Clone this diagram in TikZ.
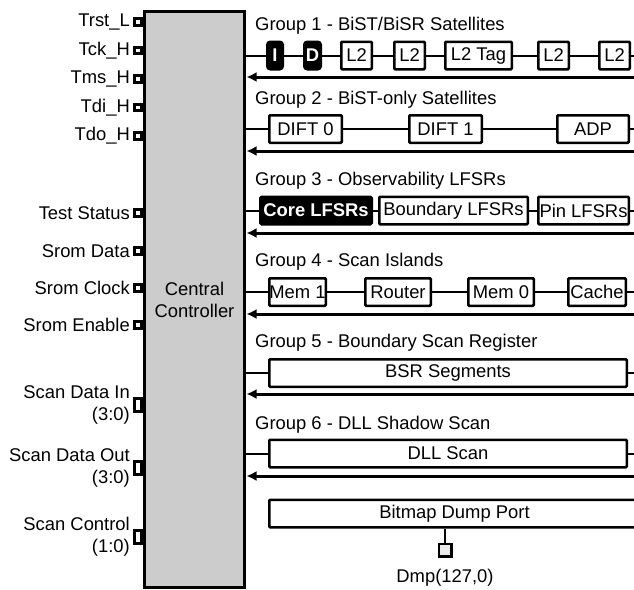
\documentclass[tikz,border=0pt]{standalone}
\usepackage{fontspec}
\setmainfont{Liberation Sans}
\usetikzlibrary{positioning,calc,arrows.meta}
\definecolor{CtrlGray}{RGB}{204,204,204}
\definecolor{PinGray}{RGB}{236,236,236}
\tikzset{
  lbl/.style={inner sep=0pt,font=\fontsize{18.4}{22}\selectfont},
  pinsq/.style={draw=black,fill=white,line width=2.6pt,minimum width=6.5pt,minimum height=6.5pt,inner sep=0pt},
  pintall/.style={pinsq,minimum height=12.5pt},
  cell/.style={draw=black,fill=white,line width=2.5pt,rounded corners=1pt,minimum height=27.5pt,
    inner sep=0pt,font=\fontsize{18.4}{22}\selectfont},
  darkcell/.style={cell,fill=black,text=white,rounded corners=3pt,font=\fontsize{18.4}{22}\selectfont\bfseries},
  wire/.style={draw=black,line width=2pt},
  ret/.style={draw=black,line width=3pt,-{Latex[length=10pt,width=10pt]}},
}

\begin{document}
\begin{tikzpicture}[x=1pt,y=-1pt]
  \useasboundingbox (0,0) rectangle (634,589);
  \clip (0,0) rectangle (634,589);
  % controller and its pins
  \node[draw=black,fill=CtrlGray,line width=3pt,minimum width=100.7pt,minimum height=576pt,
    align=center,font=\fontsize{18.4}{22}\selectfont] (ctrl) at (194.5,299.5) {Central\\Controller};
  \foreach \y/\txt [count=\i] in {22/Trst\_L,50.5/Tck\_H,79/Tms\_H,107.5/Tdi\_H,136/Tdo\_H,
      213/Test Status,251/Srom Data,288/Srom Clock,325/Srom Enable} {
    \node[pinsq] (pin\i) at (138,\y) {};
    \node[lbl,anchor=east] (pinl\i) at (130,\y) {\txt};
  }
  \foreach \y/\txt [count=\i] in {405/{Scan Data In\\(3:0)},468/{Scan Data Out\\(3:0)},537/{Scan Control\\(1:0)}} {
    \node[pintall] (bus\i) at (138,\y) {};
    \node[lbl,anchor=east,align=right] (busl\i) at (130,\y) {\txt};
  }
  % group labels
  \foreach \y/\txt [count=\i] in {26/{Group 1 - BiST/BiSR Satellites},100/{Group 2 - BiST-only Satellites},
      181/{Group 3 - Observability LFSRs},262/{Group 4 - Scan Islands},
      343/{Group 5 - Boundary Scan Register},425/{Group 6 - DLL Shadow Scan}} {
    \node[lbl,anchor=west] (grp\i) at (255,\y) {\txt};
  }
  % chain ends and return paths
  \foreach \y/\r [count=\i] in {55.5/77,129/151,210.5/233,292/314,373/394,453.5/476} {
    \coordinate (s\i) at (245,\y);
    \coordinate (e\i) at (634,\y);
    \coordinate (a\i) at (246.5,\r);
    \coordinate (b\i) at (634,\r);
    \draw[ret] (b\i) -- (a\i);
  }
  % group 1
  \node[darkcell,minimum width=15.5pt] (ic) at (275,55.5) {I};
  \node[darkcell,minimum width=16.5pt] (dc) at (312.5,55.5) {D};
  \node[cell,minimum width=30.5pt] (l2a) at (356.5,55.5) {L2};
  \node[cell,minimum width=30.5pt] (l2b) at (409.5,55.5) {L2};
  \node[cell,minimum width=66.5pt] (l2tag) at (478.5,55.5) {L2 Tag};
  \node[cell,minimum width=30.5pt] (l2c) at (553.5,55.5) {L2};
  \node[cell,minimum width=30.5pt] (l2d) at (614.5,55.5) {L2};
  \draw[wire] (s1) -- (ic) -- (dc) -- (l2a) -- (l2b) -- (l2tag) -- (l2c) -- (l2d) -- (e1);
  % group 2
  \node[cell,minimum width=72.5pt] (dift0) at (305.5,129) {DIFT 0};
  \node[cell,minimum width=72.5pt] (dift1) at (445.5,129) {DIFT 1};
  \node[cell,minimum width=71.5pt] (adp) at (593,129) {ADP};
  \draw[wire] (s2) -- (dift0) -- (dift1) -- (adp) -- (e2);
  % group 3
  \node[darkcell,minimum width=111.5pt,rounded corners=1.5pt] (corel) at (316,210.5) {Core LFSRs};
  \node[cell,minimum width=148.5pt] (bndl) at (453.5,210.5) {Boundary LFSRs};
  \node[cell,minimum width=90.5pt] (pinlf) at (583.5,210.5) {Pin LFSRs};
  \draw[wire] (s3) -- (corel) -- (bndl) -- (pinlf) -- (e3);
  % group 4
  \node[cell,minimum width=56.5pt] (mem1) at (297.5,292) {Mem 1};
  \node[cell,minimum width=65.5pt] (router) at (398,292) {Router};
  \node[cell,minimum width=65.5pt] (mem0) at (501,292) {Mem 0};
  \node[cell,minimum width=57.5pt] (cache) at (597,292) {Cache};
  \draw[wire] (s4) -- (mem1) -- (router) -- (mem0) -- (cache) -- (e4);
  % groups 5 and 6
  \node[cell,minimum width=357.5pt] (bsr) at (448,373) {BSR Segments};
  \draw[wire] (s5) -- (bsr) -- (e5);
  \node[cell,minimum width=357.5pt] (dll) at (448,453.5) {DLL Scan};
  \draw[wire] (s6) -- (dll) -- (e6);
  % bitmap dump port
  \node[cell,minimum width=370.5pt] (bitmap) at (454.5,513.5) {Bitmap Dump Port};
  \node[pinsq,fill=PinGray,line width=2.5pt,minimum width=12.5pt,minimum height=12.5pt] (dmp) at (445,550) {};
  \draw[wire,line width=2.5pt] (bitmap.south -| dmp.north) -- (dmp.north);
  \node[lbl] (dmpl) at (445,578) {Dmp(127,0)};
\end{tikzpicture}
\end{document}
